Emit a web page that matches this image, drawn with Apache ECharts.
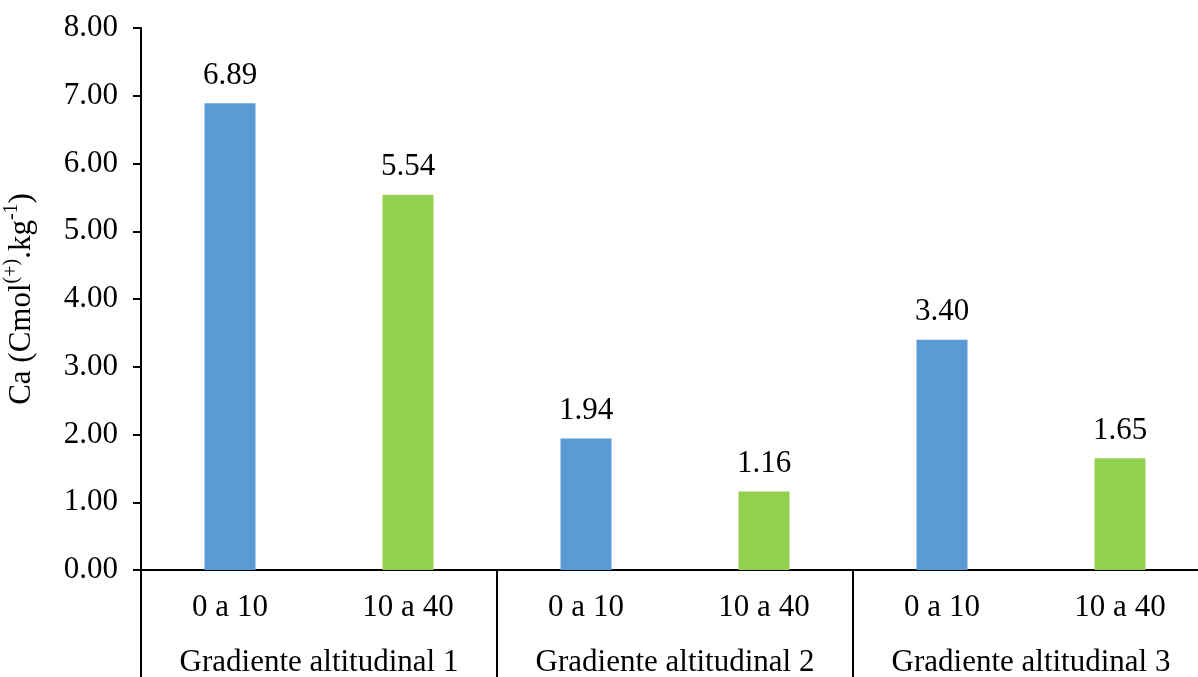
<!DOCTYPE html>
<html>
<head>
<meta charset="utf-8">
<script src="https://cdn.jsdelivr.net/npm/echarts@6/dist/echarts.min.js"></script>
<style>
html,body{margin:0;padding:0;background:#fff;overflow:hidden;}
#c{width:1198px;height:677px;}
</style>
</head>
<body>
<div id="c"></div>
<script>
const categories = ['0 a 10', '10 a 40', '0 a 10', '10 a 40', '0 a 10', '10 a 40'];
const groups = ['Gradiente altitudinal 1', 'Gradiente altitudinal 2', 'Gradiente altitudinal 3'];
const values = [6.89, 5.54, 1.94, 1.16, 3.40, 1.65];
const barColors = ['#5B9BD5', '#92D050', '#5B9BD5', '#92D050', '#5B9BD5', '#92D050'];
const yMin = 0, yMax = 8, yStep = 1;

const FONT = '"Liberation Serif", "Times New Roman", serif';
const FS = 31;
const chart = echarts.init(document.getElementById('c'), null, {renderer: 'canvas'});
chart.setOption({
  animation: false,
  backgroundColor: '#fff',
  grid: {left: 141, width: 1068, top: 28, bottom: 107, containLabel: false, outerBoundsMode: 'none'},
  xAxis: [
    {
      type: 'category',
      data: categories,
      position: 'bottom',
      axisLine: {show: true, lineStyle: {color: '#000', width: 2}},
      axisTick: {show: false},
      axisLabel: {color: '#000', fontFamily: FONT, fontSize: FS, margin: 22, interval: 0, hideOverlap: false},
      splitLine: {show: false}
    },
    {
      type: 'category',
      data: groups,
      position: 'bottom',
      offset: 0,
      axisLine: {show: false},
      axisTick: {show: true, interval: 0, length: 112, lineStyle: {color: '#000', width: 2}},
      axisLabel: {color: '#000', fontFamily: FONT, fontSize: FS, margin: 77, interval: 0, hideOverlap: false},
      splitLine: {show: false}
    }
  ],
  yAxis: {
    type: 'value',
    min: yMin, max: yMax, interval: yStep,
    axisLine: {show: true, lineStyle: {color: '#000', width: 2}},
    axisTick: {show: true, length: 8, lineStyle: {color: '#000', width: 2}},
    axisLabel: {color: '#000', fontFamily: FONT, fontSize: FS, margin: 23,
      formatter: v => v.toFixed(2)},
    splitLine: {show: false},
    name: '{a|Ca (Cmol}{s|(+)}{a|.kg}{s|-1}{a|)}',
    nameLocation: 'middle',
    nameGap: 104,
    nameRotate: 90,
    nameTextStyle: {
      rich: {
        a: {fontFamily: FONT, fontSize: 31, color: '#000', lineHeight: 35, verticalAlign: 'bottom'},
        s: {fontFamily: FONT, fontSize: 20, color: '#000', lineHeight: 35, verticalAlign: 'top', padding: [0, 0, 12, 0]}
      }
    }
  },
  series: [{
    type: 'bar',
    data: values.map((v, i) => ({value: v, itemStyle: {color: barColors[i]}})),
    barWidth: 51,
    label: {
      show: true, position: 'top', distance: 12,
      color: '#000', fontFamily: FONT, fontSize: FS,
      formatter: p => p.value.toFixed(2)
    }
  }]
});
</script>
</body>
</html>
